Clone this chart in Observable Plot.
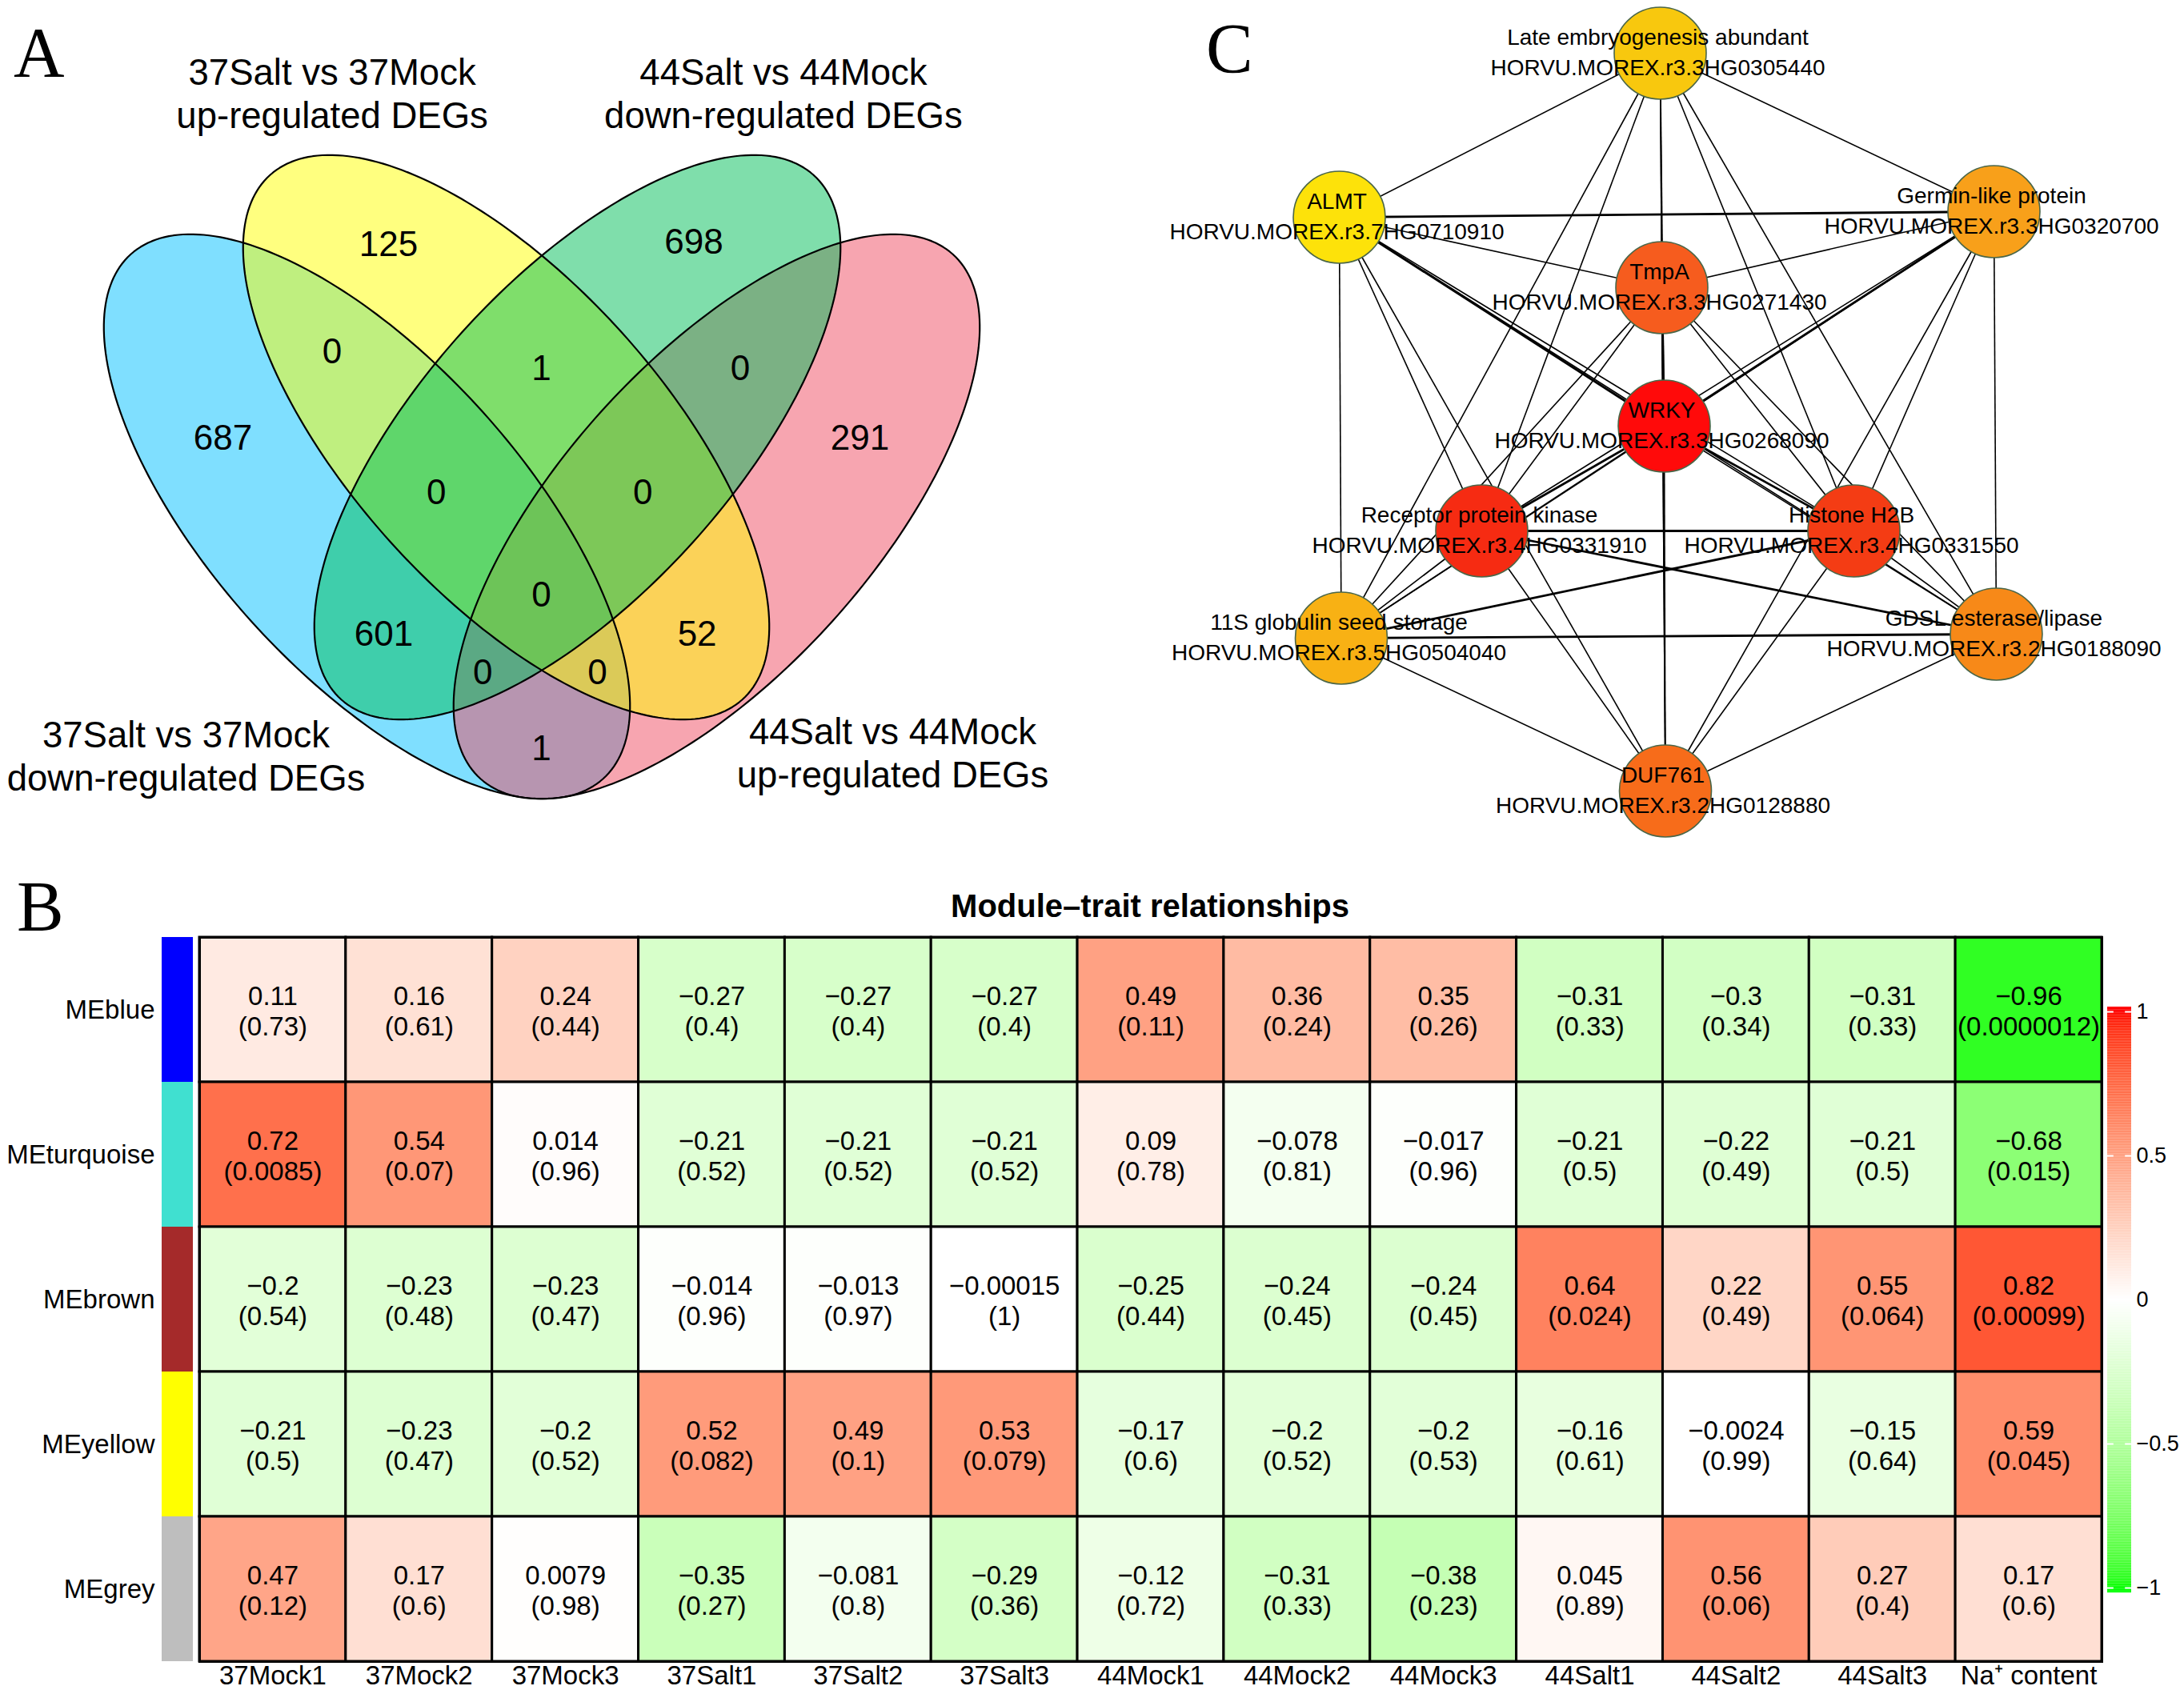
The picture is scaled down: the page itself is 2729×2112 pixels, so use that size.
<!DOCTYPE html>
<html><head><meta charset="utf-8">
<script src="https://cdn.jsdelivr.net/npm/d3@7"></script>
<script src="https://cdn.jsdelivr.net/npm/@observablehq/plot@0.6"></script>
<style>
html,body{margin:0;padding:0;background:#fff;}
#page{position:relative;width:2729px;height:2112px;overflow:hidden;background:#fff;font-family:"Liberation Sans",Arial,sans-serif;}
#page svg{position:absolute;background:transparent !important;max-width:none !important;overflow:visible;}
.letter{position:absolute;font-family:"Liberation Serif","Times New Roman",serif;font-size:88px;line-height:88px;color:#000;}
.title{position:absolute;font-weight:bold;font-size:40px;line-height:40px;text-align:center;color:#000;}
</style></head><body><div id="page"></div>
<script>
// ---------------- DATA ----------------
// Panel A: Venn
const vennSetLabels = ["37Salt vs 37Mock\ndown-regulated DEGs", "37Salt vs 37Mock\nup-regulated DEGs", "44Salt vs 44Mock\ndown-regulated DEGs", "44Salt vs 44Mock\nup-regulated DEGs"];
const vennRegions = ["A","B","C","D","AB","BC","CD","ABC","BCD","ABCD","AC","BD","ACD","ABD","AD"];
const vennCounts  = [687, 125, 698, 291, 0, 1, 0, 0, 0, 0, 601, 52, 0, 0, 1];

// Panel B: module-trait heatmap
const traits  = ["37Mock1","37Mock2","37Mock3","37Salt1","37Salt2","37Salt3","44Mock1","44Mock2","44Mock3","44Salt1","44Salt2","44Salt3","Na\u207A content"];
const modules = ["MEblue","MEturquoise","MEbrown","MEyellow","MEgrey"];
const corBlue      = [0.11, 0.16, 0.24, -0.27, -0.27, -0.27, 0.49, 0.36, 0.35, -0.31, -0.3, -0.31, -0.96];
const pBlue        = [0.73, 0.61, 0.44, 0.4, 0.4, 0.4, 0.11, 0.24, 0.26, 0.33, 0.34, 0.33, 0.0000012];
const corTurquoise = [0.72, 0.54, 0.014, -0.21, -0.21, -0.21, 0.09, -0.078, -0.017, -0.21, -0.22, -0.21, -0.68];
const pTurquoise   = [0.0085, 0.07, 0.96, 0.52, 0.52, 0.52, 0.78, 0.81, 0.96, 0.5, 0.49, 0.5, 0.015];
const corBrown     = [-0.2, -0.23, -0.23, -0.014, -0.013, -0.00015, -0.25, -0.24, -0.24, 0.64, 0.22, 0.55, 0.82];
const pBrown       = [0.54, 0.48, 0.47, 0.96, 0.97, 1, 0.44, 0.45, 0.45, 0.024, 0.49, 0.064, 0.00099];
const corYellow    = [-0.21, -0.23, -0.2, 0.52, 0.49, 0.53, -0.17, -0.2, -0.2, -0.16, -0.0024, -0.15, 0.59];
const pYellow      = [0.5, 0.47, 0.52, 0.082, 0.1, 0.079, 0.6, 0.52, 0.53, 0.61, 0.99, 0.64, 0.045];
const corGrey      = [0.47, 0.17, 0.0079, -0.35, -0.081, -0.29, -0.12, -0.31, -0.38, 0.045, 0.56, 0.27, 0.17];
const pGrey        = [0.12, 0.6, 0.98, 0.27, 0.8, 0.36, 0.72, 0.33, 0.23, 0.89, 0.06, 0.4, 0.6];
const colorbarTicks = [1, 0.5, 0, -0.5, -1];

// Panel C: network
const nodeNames = ["Late embryogenesis abundant","ALMT","Germin-like protein","TmpA","WRKY","Receptor protein kinase","Histone H2B","11S globulin seed storage","GDSL esterase/lipase","DUF761"];
const nodeIds   = ["HORVU.MOREX.r3.3HG0305440","HORVU.MOREX.r3.7HG0710910","HORVU.MOREX.r3.3HG0320700","HORVU.MOREX.r3.3HG0271430","HORVU.MOREX.r3.3HG0268090","HORVU.MOREX.r3.4HG0331910","HORVU.MOREX.r3.4HG0331550","HORVU.MOREX.r3.5HG0504040","HORVU.MOREX.r3.2HG0188090","HORVU.MOREX.r3.2HG0128880"];
// edges: [source, target, weight]
const edges = [
 [0,1,1],[0,2,1],[0,3,1],[0,4,1],[0,5,1],[0,6,1],[0,7,1],[0,8,1],[0,9,1],
 [1,2,2],[1,3,1],[1,4,2],[1,5,1],[1,6,1],[1,7,1],[1,8,1],[1,9,1],
 [2,3,1],[2,4,2],[2,5,1],[2,6,1],[2,7,1],[2,8,1],[2,9,1],
 [3,4,2],[3,5,1],[3,6,1],[3,7,1],[3,8,1],[3,9,1],
 [4,5,2],[4,6,2],[4,7,1],[4,8,1],[4,9,1],
 [5,6,2],[5,7,1],[5,8,2],[5,9,1],
 [6,7,2],[6,8,1],[6,9,1],
 [7,8,2],[7,9,1],
 [8,9,1]
];

// ---------------- LAYOUT / STYLE ----------------
// Venn ellipses in page pixels (centre, semi-axes, tilt in degrees)
const vennEllipses = [
  {cx:458, cy:645, a:441, b:195, angle:48},   // A blue
  {cx:632, cy:546, a:441, b:195, angle:48},   // B yellow
  {cx:721, cy:546, a:441, b:195, angle:-48},  // C green
  {cx:895, cy:645, a:441, b:195, angle:-48}   // D pink
];
const vennDrawOrder = [0, 3, 1, 2];
const vennFills = ["#00BFFF","#FFFF00","#00BD57","#F04B62"];
const vennRegionPos = [[278,547],[485,305],[866.5,302.7],[1074,547],[414.6,439.5],[676,460],[924.5,460],[544.8,615],[802.7,615],[676,743.8],[479,792],[870.6,792],[602.8,840],[746,840],[676,935]];
const vennSetLabelPos = [[232,943],[414.6,115],[978.4,115],[1115,939]];
const moduleColors = ["#0000FF","#40E0D0","#A52A2A","#FFFF00","#BEBEBE"];
const nodeColors = ["#F8C80E","#FDE20A","#F8A01A","#F65C1E","#FF0A0A","#F62B12","#F43C14","#F8B114","#F78918","#F76C1A"];
const nodePos = [[634,66],[233,271],[1051,264],[636,359],[639,532],[411,663],[876,663],[235.5,797],[1054,792],[640.5,988]];

const page = document.getElementById("page");
const baseStyle = {background:"transparent", fontFamily:"Liberation Sans, Arial, sans-serif", overflow:"visible"};
function place(svg, left, top){ svg.style.left = left+"px"; svg.style.top = top+"px"; page.appendChild(svg); }
function letter(t, left, top){ const d=document.createElement("div"); d.className="letter"; d.textContent=t; d.style.left=left+"px"; d.style.top=top+"px"; page.appendChild(d); }

// ---------------- PANEL A ----------------
const ellipsePts = vennEllipses.map((e, k) => {
  const th = e.angle*Math.PI/180;
  return d3.range(0, 360, 1.5).map(deg => { const t = deg*Math.PI/180;
    return {k, x: e.cx + e.a*Math.cos(t)*Math.cos(th) - e.b*Math.sin(t)*Math.sin(th),
               y: e.cy + e.a*Math.cos(t)*Math.sin(th) + e.b*Math.sin(t)*Math.cos(th)}; });
});
const regionData = vennRegions.map((r,i)=>({region:r, count:vennCounts[i], x:vennRegionPos[i][0], y:vennRegionPos[i][1]}));
const setData = vennSetLabels.map((s,i)=>({label:s, x:vennSetLabelPos[i][0], y:vennSetLabelPos[i][1]}));
const vennPlot = Plot.plot({
  width:1420, height:1100, style:baseStyle,
  x:{type:"identity", axis:null}, y:{type:"identity", axis:null},
  marks:[
    ...vennDrawOrder.map(k=>Plot.line(ellipsePts[k],{x:"x",y:"y",curve:"linear-closed",fill:vennFills[k],fillOpacity:0.5,stroke:"none"})),
    ...vennDrawOrder.map(k=>Plot.line(ellipsePts[k],{x:"x",y:"y",curve:"linear-closed",fill:"none",stroke:"#000",strokeWidth:2.2})),
    Plot.text(regionData,{x:"x",y:"y",text:d=>String(d.count),fontSize:44,fill:"#000"}),
    Plot.text(setData,{x:"x",y:"y",text:"label",fontSize:45.5,lineHeight:1.19,fill:"#000"})
  ]
});
place(vennPlot, 0, 0);

// ---------------- PANEL C ----------------
const nodes = nodeNames.map((n,i)=>({name:n, id:nodeIds[i], color:nodeColors[i], x:nodePos[i][0], y:nodePos[i][1]}));
const links = edges.map(([s,t,w])=>({s:nodes[s], t:nodes[t], w}));
const netPlot = Plot.plot({
  width:1289, height:1080, style:baseStyle,
  x:{type:"identity", axis:null}, y:{type:"identity", axis:null}, color:{type:"identity"},
  marks:[
    Plot.link(links,{x1:d=>d.s.x,y1:d=>d.s.y,x2:d=>d.t.x,y2:d=>d.t.y,stroke:"#000",strokeWidth:d=>d.w===2?2.8:1.6}),
    Plot.dot(nodes,{x:"x",y:"y",r:57.5,fill:"color",stroke:"#4a6648",strokeWidth:1.6}),
    Plot.text(nodes,{x:d=>d.x-3,y:d=>d.y-19,text:"name",fontSize:28,fill:"#000"}),
    Plot.text(nodes,{x:d=>d.x-3,y:d=>d.y+19,text:"id",fontSize:28,fill:"#000"})
  ]
});
place(netPlot, 1440, 0);

// ---------------- PANEL B ----------------
const corRows = [corBlue, corTurquoise, corBrown, corYellow, corGrey];
const pRows = [pBlue, pTurquoise, pBrown, pYellow, pGrey];
const fmt = v => v.toFixed(10).replace(/0+$/,"").replace(/\.$/,"").replace("-","\u2212");
const cells = [];
modules.forEach((m,i)=>traits.forEach((t,j)=>cells.push({module:m, trait:t, r:corRows[i][j], p:pRows[i][j]})));
const colorOpts = {type:"linear", domain:[-1,0,1], range:["#00FF00","#FFFFFF","#FF0000"], interpolate:d3.interpolateLab};
const heat = Plot.plot({
  width:2729, height:1012, style:baseStyle,
  marginLeft:249, marginRight:103, marginTop:71, marginBottom:36,
  x:{domain:traits, padding:0, round:false, label:null},
  y:{domain:modules, padding:0, round:false, label:null},
  color:colorOpts,
  marks:[
    Plot.cell(cells,{x:"trait",y:"module",fill:"r",inset:0,stroke:"#000",strokeWidth:3}),
    Plot.text(cells,{x:"trait",y:"module",text:d=>fmt(d.r)+"\n("+fmt(d.p)+")",fontSize:33,lineHeight:1.15,dy:1,fill:"#000"}),
    Plot.axisX({tickSize:0, tickPadding:5, fontSize:33, label:null}),
    Plot.axisY({tickSize:0, tickPadding:56, fontSize:33, label:null}),
    Plot.frame({stroke:"#000", strokeWidth:3})
  ]
});
place(heat, 0, 1100);

// module colour bar
const modBar = Plot.plot({
  width:39, height:905, margin:0, style:baseStyle,
  x:{domain:[""], padding:0, round:false, axis:null}, y:{domain:modules, padding:0, round:false, axis:null}, color:{type:"identity"},
  marks:[Plot.cell(modules.map((m,i)=>({m, c:moduleColors[i]})),{x:()=> "",y:"m",fill:"c",inset:0})]
});
place(modBar, 202, 1171);

// colour legend
const cbSteps = d3.range(-1.017, 1.017, 0.004);
const cbar = Plot.plot({
  width:169, height:850, style:baseStyle,
  x:{domain:[0,1], range:[73,103], axis:null},
  y:{domain:[-1,1], range:[784,64], axis:null},
  color:colorOpts,
  marks:[
    Plot.rect(cbSteps,{x1:0,x2:1,y1:d=>d,y2:d=>Math.min(d+0.0045,1.017),fill:d=>d+0.002}),
    Plot.ruleY(colorbarTicks,{y:d=>d,x1:0,x2:0.26,stroke:"#fff",strokeWidth:2}),
    Plot.ruleY(colorbarTicks,{y:d=>d,x1:0.74,x2:1,stroke:"#fff",strokeWidth:2}),
    Plot.text(colorbarTicks,{x:1,y:d=>d,dx:6,textAnchor:"start",text:d=>fmt(d),fontSize:27,fill:"#000"})
  ]
});
place(cbar, 2560, 1200);

// title and panel letters
const title = document.createElement("div");
title.className = "title"; title.textContent = "Module\u2013trait relationships";
title.style.left = (1437-700)+"px"; title.style.width = "1400px"; title.style.top = "1112px";
page.appendChild(title);
letter("A", 17, 22);
letter("B", 21, 1089);
letter("C", 1507, 17);
</script></body></html>
